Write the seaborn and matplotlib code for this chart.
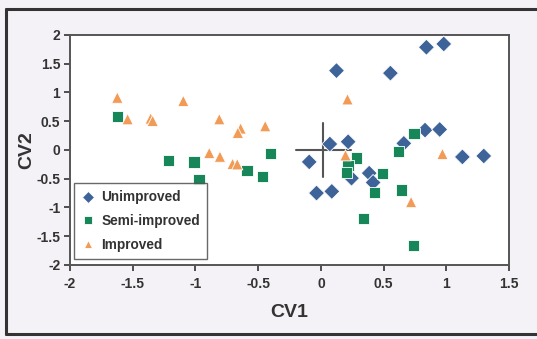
import matplotlib
matplotlib.use("Agg")
import matplotlib.pyplot as plt
import seaborn as sns
import pandas as pd
from matplotlib.lines import Line2D

# Canonical variate scores per site, grouped by grassland management
unimproved_cv1 = [0.124, 0.554, 0.841, 0.979, 0.830, 0.947, 1.128, 1.298, -0.093,
                  -0.035, 0.087, 0.217, 0.071, 0.385, 0.416, 0.244, 0.661]
unimproved_cv2 = [1.38, 1.337, 1.787, 1.844, 0.346, 0.357, -0.121, -0.104, -0.207,
                  -0.749, -0.72, 0.144, 0.104, -0.403, -0.565, -0.49, 0.115]

semi_cv1 = [-1.623, -1.217, -1.012, -0.972, -0.590, -0.463, -0.402, 0.621, 0.743,
            0.642, 0.342, 0.740, 0.491, 0.284, 0.217, 0.204, 0.430]
semi_cv2 = [0.582, -0.179, -0.207, -0.513, -0.352, -0.455, -0.058, -0.029, 0.288,
            -0.697, -1.193, -1.66, -0.415, -0.138, -0.265, -0.386, -0.738]

improved_cv1 = [-1.623, -1.541, -1.357, -1.341, -1.097, -0.810, -0.640, -0.662, -0.444,
                -0.890, -0.805, -0.704, -0.667, 0.212, 0.196, 0.969, 0.719]
improved_cv2 = [0.911, 0.536, 0.548, 0.507, 0.853, 0.536, 0.375, 0.300, 0.415,
                -0.052, -0.115, -0.242, -0.248, 0.882, -0.092, -0.069, -0.905]

groups = ["Unimproved", "Semi-improved", "Improved"]

# Grand centroid cross (centre and half-lengths of the arms)
centroid = (0.02, 0.0)
cross_half_x = 0.22
cross_half_y = 0.47

x_ticks = [-2, -1.5, -1, -0.5, 0, 0.5, 1, 1.5]
y_ticks = [2, 1.5, 1, 0.5, 0, -0.5, -1, -1.5, -2]

df = pd.DataFrame({
    "CV1": unimproved_cv1 + semi_cv1 + improved_cv1,
    "CV2": unimproved_cv2 + semi_cv2 + improved_cv2,
    "group": [groups[0]] * len(unimproved_cv1) + [groups[1]] * len(semi_cv1)
             + [groups[2]] * len(improved_cv1),
})

sns.set_style("ticks")
plt.rcParams["font.family"] = ["Liberation Sans", "DejaVu Sans"]
plt.rcParams["font.weight"] = "bold"

bg = "#f4f2f6"
ink = "#333333"
palette = {"Unimproved": "#3d6399", "Semi-improved": "#17875a", "Improved": "#f29b57"}
markers = {"Unimproved": "D", "Semi-improved": "s", "Improved": "^"}

fig = plt.figure(figsize=(5.37, 3.39), dpi=100, facecolor=bg)
ax = fig.add_axes([0.1304, 0.2183, 0.8176, 0.6785])
ax.set_facecolor("white")

sns.scatterplot(data=df, x="CV1", y="CV2", hue="group", style="group",
                hue_order=groups, style_order=groups, palette=palette,
                markers=markers, s=66, linewidth=0.6, edgecolor="white",
                ax=ax, zorder=3)

cx, cy = centroid
ax.plot([cx - cross_half_x, cx + cross_half_x], [cy, cy], color="#555555", lw=1.5, zorder=2)
ax.plot([cx, cx], [cy - cross_half_y, cy + cross_half_y], color="#555555", lw=1.5, zorder=2)

ax.set_xlim(-2, 1.5)
ax.set_ylim(-2, 2)
ax.set_xticks(x_ticks)
ax.set_xticklabels([f"{t:g}" for t in x_ticks])
ax.set_yticks(y_ticks)
ax.set_yticklabels([f"{t:g}" for t in y_ticks])
ax.tick_params(axis="both", direction="out", length=4, width=1.2, color=ink,
               labelsize=10, labelcolor=ink, pad=3)
ax.tick_params(axis="x", pad=5)
for lab in ax.get_xticklabels() + ax.get_yticklabels():
    lab.set_fontweight("bold")

for side in ["left", "bottom", "top", "right"]:
    ax.spines[side].set_visible(True)
    ax.spines[side].set_color("#555555")
    ax.spines[side].set_linewidth(1.4)

ax.set_xlabel("CV1", fontsize=14, fontweight="bold", color=ink, labelpad=9)
ax.set_ylabel("CV2", fontsize=14, fontweight="bold", color=ink, labelpad=1)

leg = ax.legend(loc="lower left", bbox_to_anchor=(0.009, 0.026), borderaxespad=0,
                frameon=True, fancybox=False, edgecolor="#444444", fontsize=9.8,
                handletextpad=0.45, borderpad=0.55, labelspacing=0.7,
                handlelength=1.0, markerscale=0.75)
leg.get_frame().set_linewidth(1.0)
for t in leg.get_texts():
    t.set_fontweight("bold")
    t.set_color(ink)

# Outer frame lines around the figure panel (left, top, bottom)
frame_kw = dict(transform=fig.transFigure, color="#333333", linewidth=2.2)
fig.add_artist(Line2D([0.012, 0.012], [0.015, 0.972], **frame_kw))
fig.add_artist(Line2D([0.012, 1.0], [0.972, 0.972], **frame_kw))
fig.add_artist(Line2D([0.012, 1.0], [0.015, 0.015], **frame_kw))

fig.savefig("out.png", dpi=100, facecolor=bg)
